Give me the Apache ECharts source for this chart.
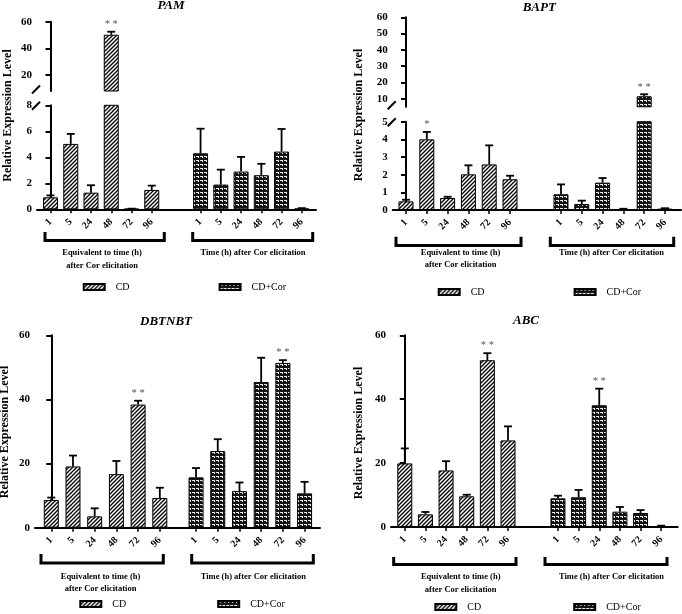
<!DOCTYPE html>
<html><head><meta charset="utf-8">
<script src="https://cdn.jsdelivr.net/npm/echarts@6/dist/echarts.min.js"></script>
<style>html,body{margin:0;padding:0;background:#fff}#c{width:682px;height:614px}</style>
</head><body><div id="c"></div>
<script>
// ---------------- data ----------------
const timeLabels = ['1', '5', '24', '48', '72', '96'];
const seriesNames = ['CD', 'CD+Cor'];
const groupLabelCD = 'Equivalent to time (h)\nafter Cor elicitation';
const groupLabelCor = 'Time (h) after Cor elicitation';
const yAxisName = 'Relative Expression Level';

const pamCD = [0.92, 5.03, 1.28, 50.2, 0.03, 1.49];
const pamCDErr = [0.15, 0.77, 0.57, 2.3, 0.02, 0.33];
const pamCor = [4.31, 1.90, 2.90, 2.62, 4.44, 0.05];
const pamCorErr = [1.89, 1.15, 1.13, 0.88, 1.74, 0.04];
const pamCDStars = ['', '', '', '* *', '', ''];
const pamCorStars = ['', '', '', '', '', ''];
const pamUpperTicks = [20, 40, 60];
const pamLowerTicks = [0, 2, 4, 6, 8];

const baptCD = [0.49, 4.00, 0.68, 2.02, 2.58, 1.74];
const baptCDErr = [0.09, 0.42, 0.07, 0.51, 1.08, 0.20];
const baptCor = [0.89, 0.34, 1.55, 0.05, 11.5, 0.08];
const baptCorErr = [0.56, 0.19, 0.26, 0.02, 1.2, 0.02];
const baptCDStars = ['', '*', '', '', '', ''];
const baptCorStars = ['', '', '', '', '* *', ''];
const baptUpperTicks = [10, 20, 30, 40, 50, 60];
const baptLowerTicks = [0, 1, 2, 3, 4, 5];

const dbtCD = [8.65, 19.1, 3.54, 16.7, 38.4, 9.27];
const dbtCDErr = [0.75, 3.4, 2.5, 4.1, 1.2, 3.2];
const dbtCor = [15.7, 23.9, 11.4, 45.4, 51.4, 10.7];
const dbtCorErr = [2.9, 3.7, 2.7, 7.6, 0.85, 3.6];
const dbtCDStars = ['', '', '', '', '* *', ''];
const dbtCorStars = ['', '', '', '', '* *', ''];
const dbtTicks = [0, 20, 40, 60];

const abcCD = [19.9, 3.97, 17.7, 9.6, 52.2, 27.1];
const abcCDErr = [4.7, 0.73, 2.9, 0.5, 2.2, 4.4];
const abcCor = [8.98, 9.3, 38.1, 4.8, 4.38, 0.3];
const abcCorErr = [0.82, 2.3, 5.2, 1.46, 0.92, 0.12];
const abcCDStars = ['', '', '', '', '* *', ''];
const abcCorStars = ['', '', '* *', '', '', ''];
const abcTicks = [0, 20, 40, 60];

// ---------------- styling / layout ----------------
const FONT = 'Liberation Serif';

function makeHatch() {
  const c = document.createElement('canvas'); c.width = 4; c.height = 4;
  const g = c.getContext('2d');
  g.fillStyle = '#fff'; g.fillRect(0, 0, 4, 4);
  g.strokeStyle = '#000'; g.lineWidth = 1.3;
  g.beginPath();
  g.moveTo(-1, 5); g.lineTo(5, -1);
  g.moveTo(-1, 1); g.lineTo(1, -1);
  g.moveTo(3, 5); g.lineTo(5, 3);
  g.stroke();
  return c;
}
function makeDots() {
  const c = document.createElement('canvas'); c.width = 4; c.height = 4;
  const g = c.getContext('2d');
  g.fillStyle = '#151515'; g.fillRect(0, 0, 4, 4);
  g.fillStyle = '#e8e8e8';
  g.fillRect(0, 0, 3, 1); g.fillRect(2, 1, 1, 1);
  return c;
}
const hatchFill = { image: makeHatch(), repeat: 'repeat' };
const dotsFill = { image: makeDots(), repeat: 'repeat' };

const panels = [
  { title: 'PAM', cd: pamCD, cdErr: pamCDErr, cor: pamCor, corErr: pamCorErr, cdStars: pamCDStars, corStars: pamCorStars,
    left: 37, right: 316, corOffset: 7.41, xMin: -0.667, xMax: 13.11,
    segs: [{ top: 21.7, bottom: 91, min: 8, max: 60, ticks: pamUpperTicks },
           { top: 105.3, bottom: 209.3, min: 0, max: 8, ticks: pamLowerTicks, showX: true }],
    titlePos: [171, -1], yNamePos: [8, 115.5],
    brCD: [45, 164.3], brCor: [192.7, 312.7], brY: [232, 240.5],
    lblCD: [102, 247], lblCor: [253, 247],
    legend: [82.7, 285, 89] },
  { title: 'BAPT', cd: baptCD, cdErr: baptCDErr, cor: baptCor, corErr: baptCorErr, cdStars: baptCDStars, corStars: baptCorStars,
    left: 392.7, right: 681, corOffset: 7.45, xMin: -0.64, xMax: 13.22,
    segs: [{ top: 17.3, bottom: 106.8, min: 5, max: 60, ticks: baptUpperTicks },
           { top: 121.7, bottom: 210, min: 0, max: 5, ticks: baptLowerTicks, showX: true }],
    titlePos: [539.3, 1], yNamePos: [359, 115],
    brCD: [396, 521], brCor: [550.3, 673.7], brY: [236.7, 245.5],
    lblCD: [460.5, 246.7], lblCor: [611.5, 246.7],
    legend: [437.7, 290, 89] },
  { title: 'DBTNBT', cd: dbtCD, cdErr: dbtCDErr, cor: dbtCor, corErr: dbtCorErr, cdStars: dbtCDStars, corStars: dbtCorStars,
    left: 35, right: 320, corOffset: 6.67, xMin: -0.75, xMax: 12.38,
    segs: [{ top: 335.3, bottom: 527.7, min: 0, max: 60, ticks: dbtTicks, showX: true }],
    titlePos: [166, 315], yNamePos: [5, 432],
    brCD: [41, 163.3], brCor: [191.7, 313.3], brY: [554, 563],
    lblCD: [100.5, 570.3], lblCor: [253.3, 570.3],
    legend: [79.3, 602, 91] },
  { title: 'ABC', cd: abcCD, cdErr: abcCDErr, cor: abcCor, corErr: abcCorErr, cdStars: abcCDStars, corStars: abcCorStars,
    left: 391, right: 677.7, corOffset: 7.42, xMin: -0.668, xMax: 13.22,
    segs: [{ top: 335.3, bottom: 527, min: 0, max: 60, ticks: abcTicks, showX: true }],
    titlePos: [526, 314.5], yNamePos: [359, 433],
    brCD: [393.7, 516], brCor: [545, 667], brY: [557, 564.5],
    lblCD: [460.7, 571], lblCor: [611.5, 571],
    legend: [434.3, 605, 92] }
];

const option = {
  animation: false,
  backgroundColor: '#fff',
  title: [], legend: [], grid: [], xAxis: [], yAxis: [], series: [], graphic: []
};

function errRenderer(seg, stars) {
  return function (params, api) {
    const x = api.value(0), v = api.value(1), e = api.value(2);
    if (!(v >= seg.min && v <= seg.max)) return null;
    const p0 = api.coord([x, v]);
    const p1 = api.coord([x, v + e]);
    const children = [
      { type: 'line', shape: { x1: p0[0], y1: p0[1], x2: p1[0], y2: p1[1] }, style: { stroke: '#000', lineWidth: 1.8 } },
      { type: 'line', shape: { x1: p1[0] - 4, y1: p1[1], x2: p1[0] + 4, y2: p1[1] }, style: { stroke: '#000', lineWidth: 1.8 } }
    ];
    const s = stars[params.dataIndex];
    if (s) {
      children.push({ type: 'text', x: p1[0], y: p1[1] - 2,
        style: { text: s, fill: '#555', font: '10.5px "' + FONT + '"', textAlign: 'center', textVerticalAlign: 'bottom' } });
    }
    return { type: 'group', children: children };
  };
}

panels.forEach(function (p) {
  const cdPos = timeLabels.map(function (_, i) { return i; });
  const corPos = timeLabels.map(function (_, i) { return i + p.corOffset; });
  const allPos = cdPos.concat(corPos);
  const labelFor = function (val) {
    for (let j = 0; j < allPos.length; j++) if (Math.abs(allPos[j] - val) < 1e-6) return timeLabels[j % timeLabels.length];
    return '';
  };

  p.segs.forEach(function (s) {
    const gi = option.grid.length;
    option.grid.push({ left: p.left, top: s.top, width: p.right - p.left, height: s.bottom - s.top });
    option.xAxis.push({
      type: 'value', gridIndex: gi, min: p.xMin, max: p.xMax, show: !!s.showX,
      splitLine: { show: false },
      axisLine: { show: true, onZero: false, lineStyle: { color: '#000', width: 2 } },
      axisTick: { show: true, customValues: allPos, length: 4, lineStyle: { color: '#000', width: 1.5 } },
      axisLabel: { customValues: allPos, rotate: 45, formatter: labelFor, margin: 11,
        fontFamily: FONT, fontWeight: 'bold', fontSize: 10, color: '#000' }
    });
    option.yAxis.push({
      type: 'value', gridIndex: gi, min: s.min, max: s.max,
      splitLine: { show: false },
      axisLine: { show: true, lineStyle: { color: '#000', width: 2 } },
      axisTick: { show: true, customValues: s.ticks, length: 5, lineStyle: { color: '#000', width: 2 } },
      axisLabel: { customValues: s.ticks, margin: 5, fontFamily: FONT, fontWeight: 'bold', fontSize: 11, color: '#000' }
    });
    const upper = s.min > 0;
    const keep = function (v) { return upper ? (v > s.min ? v : '-') : v; };
    option.series.push({
      type: 'bar', name: seriesNames[0], xAxisIndex: gi, yAxisIndex: gi, barWidth: 15, barGap: '-100%',
      data: p.cd.map(function (v, i) { return [cdPos[i], keep(v)]; }),
      itemStyle: { color: hatchFill, borderColor: '#000', borderWidth: 1 },
      emphasis: { disabled: true }, silent: true
    });
    option.series.push({
      type: 'bar', name: seriesNames[1], xAxisIndex: gi, yAxisIndex: gi, barWidth: 15, barGap: '-100%',
      data: p.cor.map(function (v, i) { return [corPos[i], keep(v)]; }),
      itemStyle: { color: dotsFill, borderColor: '#000', borderWidth: 1 },
      emphasis: { disabled: true }, silent: true
    });
    const errData = p.cd.map(function (v, i) { return [cdPos[i], v, p.cdErr[i]]; })
      .concat(p.cor.map(function (v, i) { return [corPos[i], v, p.corErr[i]]; }));
    const stars = p.cdStars.concat(p.corStars);
    option.series.push({
      type: 'custom', xAxisIndex: gi, yAxisIndex: gi, clip: false, z: 5, silent: true,
      encode: { x: 0, y: 1 }, data: errData, renderItem: errRenderer(s, stars)
    });
  });

  // break marks
  if (p.segs.length === 2) {
    const ax = p.left - 1;
    [p.segs[0].bottom - 1.5, p.segs[1].top + 0.5].forEach(function (y) {
      option.graphic.push({ type: 'line', shape: { x1: ax - 4, y1: y + 4, x2: ax + 4, y2: y - 4 },
        style: { stroke: '#000', lineWidth: 2 }, silent: true });
    });
  }

  option.title.push({ text: p.title, left: p.titlePos[0], top: p.titlePos[1], textAlign: 'center', padding: 0,
    textStyle: { fontFamily: FONT, fontSize: 13, fontWeight: 'bold', fontStyle: 'italic', color: '#000' } });

  option.graphic.push({ type: 'text', x: p.yNamePos[0], y: p.yNamePos[1], rotation: Math.PI / 2, silent: true,
    style: { text: yAxisName, font: 'bold 12px "' + FONT + '"', fill: '#000', textAlign: 'center', textVerticalAlign: 'middle' } });

  [p.brCD, p.brCor].forEach(function (b) {
    option.graphic.push({ type: 'polyline', silent: true,
      shape: { points: [[b[0], p.brY[0]], [b[0], p.brY[1]], [b[1], p.brY[1]], [b[1], p.brY[0]]] },
      style: { stroke: '#000', lineWidth: 3, fill: null } });
  });
  option.graphic.push({ type: 'text', x: p.lblCD[0], y: p.lblCD[1], silent: true,
    style: { text: groupLabelCD, font: 'bold 8.5px "' + FONT + '"', lineHeight: 12.3, fill: '#000', textAlign: 'center', textVerticalAlign: 'top' } });
  option.graphic.push({ type: 'text', x: p.lblCor[0], y: p.lblCor[1], silent: true,
    style: { text: groupLabelCor, font: 'bold 8.5px "' + FONT + '"', lineHeight: 12.3, fill: '#000', textAlign: 'center', textVerticalAlign: 'top' } });

  option.legend.push({
    left: p.legend[0], top: p.legend[1] - 3, padding: 0, itemGap: p.legend[2], icon: 'rect',
    itemWidth: 21, itemHeight: 6, selectedMode: false, data: seriesNames,
    textStyle: { fontFamily: FONT, fontSize: 10, color: '#000', padding: [0, 0, 0, 6] }
  });
});

const chart = echarts.init(document.getElementById('c'), null, { renderer: 'canvas' });
chart.setOption(option);
</script>
</body></html>
